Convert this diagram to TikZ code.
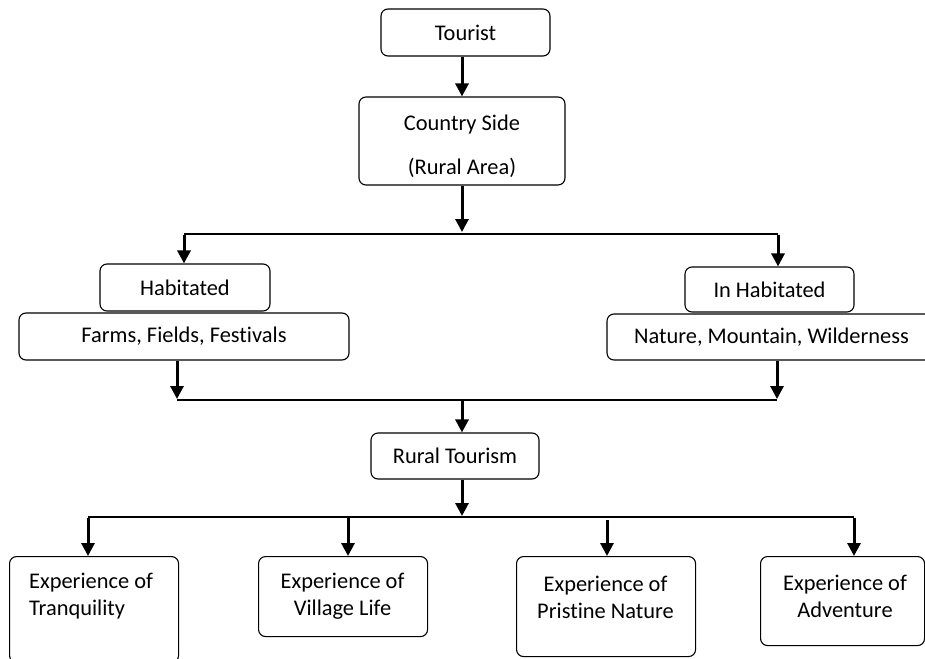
\documentclass[tikz,border=0pt]{standalone}
\usepackage{fontspec}
\setmainfont{Carlito}[Ligatures=NoCommon]
\usetikzlibrary{arrows.meta}
\begin{document}
\begin{tikzpicture}[x=1pt,y=-1pt,
  box/.style={draw, line width=1.1pt, rounded corners=7pt, inner sep=0pt,
    font=\fontsize{22.4}{27}\selectfont, align=center},
  txt/.style={inner sep=0pt, font=\fontsize{22.4}{27}\selectfont},
  link/.style={line width=1.3pt},
  arr/.style={line width=3pt, -{Triangle[width=13pt,length=13pt]}},
]
\useasboundingbox (0,0) rectangle (925,658);

% top chain
\node[box, minimum width=169pt, minimum height=47pt] (tourist) at (465.5,32.5) {Tourist};
\node[box, minimum width=206pt, minimum height=88pt] (country) at (462,141) {};
\node[txt, align=center] (countrytxt) at (462,146) {Country Side\\[17pt](Rural Area)};

% two kinds of countryside
\node[box, minimum width=170pt, minimum height=47pt] (hab) at (185,287.5) {Habitated};
\node[box, minimum width=330pt, minimum height=47pt] (farms) at (184,336.5) {Farms, Fields, Festivals};
\node[box, minimum width=169pt, minimum height=45pt] (inhab) at (769.5,289.5) {In Habitated};
\node[box, minimum width=329pt, minimum height=46pt] (nature) at (771.5,337) {Nature, Mountain, Wilderness};

% rural tourism
\node[box, minimum width=168pt, minimum height=46pt] (rural) at (455,456) {Rural Tourism};

% experiences
\node[box, minimum width=169pt, minimum height=106pt, anchor=north west] (tranq) at (9,556) {};
\node[txt, align=left, anchor=west] (tranqtxt) at (29,596) {Experience of\\Tranquility};
\node[box, minimum width=169pt, minimum height=80pt, anchor=north west] (village) at (258,556) {};
\node[txt, align=center] (villagetxt) at (342.5,596) {Experience of\\Village Life};
\node[box, minimum width=179pt, minimum height=100pt, anchor=north west] (pristine) at (516,556) {};
\node[txt, align=center] (pristinetxt) at (605.5,597) {Experience of\\Pristine Nature};
\node[box, minimum width=164pt, minimum height=89pt, anchor=north west] (adventure) at (760,556) {};
\node[txt, align=center] (adventuretxt) at (845,596) {Experience of\\Adventure};

% junction points
\coordinate (s1) at (462,234);
\coordinate (s1l) at (184,234);
\coordinate (s1r) at (778,234);
\coordinate (m1l) at (177,400);
\coordinate (m1r) at (777,400);
\coordinate (m1) at (462,400);
\coordinate (s2) at (462,517);
\coordinate (s2a) at (88,517);
\coordinate (s2b) at (348,517);
\coordinate (s2c) at (607,517);
\coordinate (s2d) at (854,517);

% connectors
\draw[arr] ([xshift=-3.5pt]tourist.south) -- (country.north);
\draw[arr] (country.south) -- ([yshift=2pt]s1);
\draw[link] (s1l) -- (s1r);
\draw[arr] ([yshift=-0.6pt]s1l) -- (hab.north -| s1l);
\draw[arr] ([yshift=-0.6pt]s1r) -- (inhab.north -| s1r);
\draw[arr] (farms.south -| m1l) -- ([yshift=1pt]m1l);
\draw[arr] (nature.south -| m1r) -- ([yshift=1pt]m1r);
\draw[link] (m1l) -- (m1r);
\draw[arr] ([yshift=-0.6pt]m1) -- (rural.north -| m1);
\draw[arr] (rural.south -| s2) -- ([yshift=1pt]s2);
\draw[link] (s2a) -- (s2d);
\draw[arr] ([yshift=-0.6pt]s2a) -- (tranq.north -| s2a);
\draw[arr] ([yshift=-0.6pt]s2b) -- (village.north -| s2b);
\draw[arr] ([yshift=-3pt]s2c) -- (pristine.north -| s2c);
\draw[arr] ([yshift=-0.6pt]s2d) -- (adventure.north -| s2d);
\end{tikzpicture}
\end{document}
